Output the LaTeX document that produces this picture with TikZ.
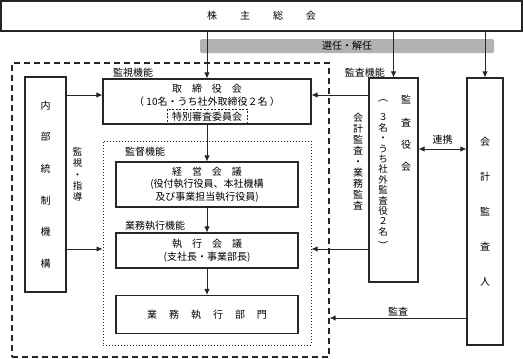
\documentclass[tikz,border=0pt]{standalone}
\usepackage{fontspec}
\setmainfont{Noto Sans CJK JP}
\usetikzlibrary{arrows.meta, positioning, calc}

\begin{document}
\begin{tikzpicture}[
    x=1pt, y=1pt,
    font=\fontsize{10}{13}\selectfont,
    box/.style={draw=black!85, line width=1.1pt, inner sep=0pt, align=center},
    lbl/.style={font=\fontsize{10}{12}\selectfont, inner sep=0pt},
    vtext/.style={inner sep=0pt, align=center},
    arr/.style={-{Latex[length=6pt,width=5.5pt]}, line width=0.9pt, draw=black!85},
    dblarr/.style={{Latex[length=6pt,width=5.5pt]}-{Latex[length=6pt,width=5.5pt]},
                   line width=0.9pt, draw=black!85},
]
\useasboundingbox (0,0) rectangle (523,-359);

% --- frames ---
\node[draw=black!85, dashed, dash pattern=on 6pt off 4pt, line width=1.3pt,
      minimum width=317, minimum height=294] (outer) at (170.5,-210) {};
\node[draw=black!85, dotted, line width=1pt,
      minimum width=208, minimum height=204] (dotbox) at (207,-243) {};

% --- Row 1: shareholders and election bar ---
\node[box, minimum width=521, minimum height=30] (sh) at (261.5,-16)
    {株\hspace{23pt}主\hspace{23pt}総\hspace{23pt}会};
\node[fill=black!30, rounded corners=2pt, minimum width=294, minimum height=14,
      inner sep=0pt] (senin) at (347,-46) {選任・解任};

% --- centre column ---
\node[box, minimum width=208, minimum height=45] (board) at (207,-101.5)
    {取　締　役　会\\（ 10名・うち社外取締役２名 ）\\\phantom{特}};
\node[draw=black!85, dashed, dash pattern=on 2pt off 1.5pt, line width=0.8pt,
      minimum width=80, minimum height=15, inner sep=0pt] (tokubetsu) at (207,-116.5)
    {特別審査委員会};
\node[box, minimum width=182, minimum height=45, font=\fontsize{10}{12.5}\selectfont]
    (keiei) at (207,-184.5)
    {経　営　会　議\\(役付執行役員、本社機構\\及び事業担当執行役員)};
\node[box, minimum width=182, minimum height=35] (shikko) at (207,-250.5)
    {執　行　会　議\\(支社長・事業部長)};
\node[box, minimum width=182, minimum height=38] (gyomu) at (207,-314.5)
    {業\hspace{12pt}務\hspace{12pt}執\hspace{12pt}行\hspace{12pt}部\hspace{12pt}門};

% --- left: internal control ---
\node[box, minimum width=41, minimum height=215, font=\fontsize{10}{31.6}\selectfont]
    (naibu) at (45.5,-184.5) {内\\部\\統\\制\\機\\構};
\node[vtext, font=\fontsize{9.5}{11.3}\selectfont] (shido) at (77.5,-174.5)
    {監\\視\\・\\指\\導};

% --- right: auditors ---
\node[box, minimum width=49, minimum height=204] (kansa) at (393.5,-180) {};
\node[vtext, font=\fontsize{10}{22.3}\selectfont] (kansatitle) at (406,-133.5)
    {監\\査\\役\\会};
\node[vtext, font=\fontsize{9.5}{10.4}\selectfont] (kansamember) at (383,-175)
    {３\\名\\・\\う\\ち\\社\\外\\監\\査\\役\\２\\名};
\node[vtext] (parl) at (383,-101) {︵};
\node[vtext] (parr) at (383,-245) {︶};
\node[vtext, font=\fontsize{10}{11.1}\selectfont] (kaikeikansa) at (358,-161.5)
    {会\\計\\監\\査\\・\\業\\務\\監\\査};
\node[box, minimum width=36, minimum height=267, font=\fontsize{10}{35}\selectfont]
    (kaikei) at (485,-211.5) {会\\計\\監\\査\\人};

% --- function labels ---
\node[lbl, anchor=west] (fkanshi) at (113,-73) {監視機能};
\node[lbl, anchor=east] (fkansa) at (385,-73) {監査機能};
\node[lbl, anchor=west] (fkantoku) at (125,-152) {監督機能};
\node[lbl, anchor=west] (fshikko) at (125,-226) {業務執行機能};

% --- relationships ---
\coordinate (rowA) at (0,-95);
\coordinate (rowB) at (0,-249);
\coordinate (rowC) at (0,-149);
\coordinate (rowD) at (0,-318);

\draw[arr] (sh.south -| board.north) -- (board.north);
\draw[arr] (sh.south -| kansa.north) -- (kansa.north);
\draw[arr] (sh.south -| kaikei.north) -- (kaikei.north);
\draw[arr] (board.south) -- (keiei.north);
\draw[arr] (keiei.south) -- (shikko.north);
\draw[arr] (shikko.south) -- (gyomu.north);
\draw[arr] (naibu.east |- rowA) -- (board.west |- rowA);
\draw[arr] (kansa.west |- rowA) -- (board.east |- rowA);
\draw[arr] (naibu.east |- rowB) -- (dotbox.west |- rowB);
\draw[arr] (kansa.west |- rowB) -- (dotbox.east |- rowB);
\draw[dblarr] (kansa.east |- rowC) -- node[lbl, above=4pt] (renkei) {連携}
              (kaikei.west |- rowC);
\draw[arr] (kaikei.west |- rowD) -- node[lbl, above=1pt] (kansalbl) {監査}
           (outer.east |- rowD);

\end{tikzpicture}
\end{document}
